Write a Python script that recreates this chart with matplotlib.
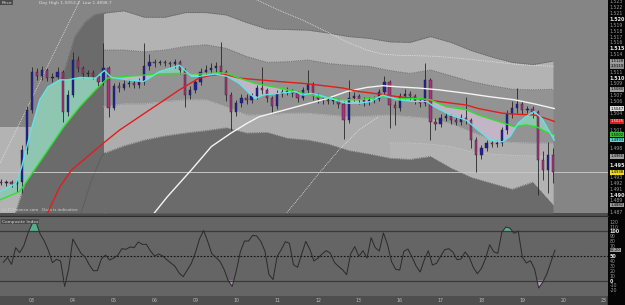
import numpy as np
import matplotlib
matplotlib.use("Agg")
import matplotlib.pyplot as plt
from matplotlib.patches import Rectangle

nan = np.nan

# ---------------- data ----------------
day_labels = ['03', '04', '05', '06', '09', '10', '11', '12', '13', '16', '17', '18', '19', '20', '23']

# 3-hour candles, first one at day -0.75
close = [1.4920, 1.4921, 1.4918, 1.4921, 1.4976, 1.5044, 1.5109, 1.5102, 1.5113, 1.5099,
         1.5101, 1.5109, 1.5041, 1.5070, 1.5130, 1.5116, 1.5106, 1.5108, 1.5102, 1.5092,
         1.5116, 1.5048, 1.5085, 1.5082, 1.5089, 1.5091, 1.5087, 1.5092, 1.5120, 1.5126,
         1.5125, 1.5126, 1.5125, 1.5123, 1.5126, 1.5113, 1.5070, 1.5078, 1.5092, 1.5109,
         1.5113, 1.5116, 1.5120, 1.5109, 1.5070, 1.5041, 1.5056, 1.5065, 1.5061, 1.5068,
         1.5082, 1.5078, 1.5065, 1.5051, 1.5072, 1.5075, 1.5077, 1.5073, 1.5065, 1.5078,
         1.5089, 1.5068, 1.5063, 1.5061, 1.5060, 1.5061, 1.5055, 1.5027, 1.5065, 1.5068,
         1.5061, 1.5058, 1.5061, 1.5063, 1.5075, 1.5092, 1.5053, 1.5048, 1.5068, 1.5072,
         1.5068, 1.5060, 1.5056, 1.5096, 1.5024, 1.5021, 1.5031, 1.5034, 1.5027, 1.5024,
         1.5031, 1.5027, 1.4993, 1.4967, 1.4979, 1.4988, 1.4986, 1.4988, 1.5010, 1.5038,
         1.5048, 1.5055, 1.5044, 1.5046, 1.5041, 1.4959, 1.4942, 1.4967, 1.4938]
high = [1.4926, 1.4925, 1.4924, 1.4930, 1.4985, 1.5052, 1.5118, 1.5117, 1.5120, 1.5117,
        1.5108, 1.5118, 1.5112, 1.5078, 1.5144, 1.5136, 1.5120, 1.5113, 1.5112, 1.5105,
        1.5159, 1.5120, 1.5090, 1.5092, 1.5095, 1.5097, 1.5096, 1.5100, 1.5159, 1.5140,
        1.5131, 1.5130, 1.5130, 1.5129, 1.5131, 1.5130, 1.5116, 1.5085, 1.5098, 1.5116,
        1.5121, 1.5124, 1.5127, 1.5161, 1.5112, 1.5075, 1.5062, 1.5072, 1.5071, 1.5074,
        1.5088, 1.5118, 1.5082, 1.5069, 1.5078, 1.5081, 1.5083, 1.5081, 1.5077, 1.5084,
        1.5113, 1.5093, 1.5073, 1.5068, 1.5066, 1.5066, 1.5065, 1.5059, 1.5096, 1.5075,
        1.5072, 1.5066, 1.5066, 1.5069, 1.5081, 1.5103, 1.5096, 1.5060, 1.5074, 1.5080,
        1.5077, 1.5072, 1.5065, 1.5125, 1.5099, 1.5030, 1.5037, 1.5040, 1.5038, 1.5032,
        1.5037, 1.5067, 1.5030, 1.4998, 1.4985, 1.4993, 1.4992, 1.4993, 1.5016, 1.5045,
        1.5060, 1.5082, 1.5060, 1.5052, 1.5051, 1.5045, 1.4975, 1.4990, 1.4980]
low = [1.4916, 1.4915, 1.4912, 1.4905, 1.4903, 1.4970, 1.5040, 1.5095, 1.5096, 1.5094,
       1.5092, 1.5097, 1.5024, 1.5035, 1.5066, 1.5110, 1.5100, 1.5101, 1.5097, 1.5085,
       1.5088, 1.5032, 1.5044, 1.5076, 1.5078, 1.5084, 1.5082, 1.5082, 1.5088, 1.5112,
       1.5118, 1.5121, 1.5120, 1.5118, 1.5117, 1.5106, 1.5050, 1.5064, 1.5074, 1.5088,
       1.5104, 1.5108, 1.5110, 1.5104, 1.5060, 1.5010, 1.5035, 1.5050, 1.5055, 1.5056,
       1.5063, 1.5072, 1.5058, 1.5039, 1.5047, 1.5067, 1.5070, 1.5067, 1.5058, 1.5061,
       1.5074, 1.5062, 1.5057, 1.5055, 1.5054, 1.5054, 1.5048, 1.4995, 1.5022, 1.5060,
       1.5055, 1.5052, 1.5053, 1.5056, 1.5059, 1.5070, 1.5014, 1.5019, 1.5043, 1.5063,
       1.5062, 1.5054, 1.5050, 1.5052, 1.4993, 1.5010, 1.5016, 1.5026, 1.5021, 1.5018,
       1.5019, 1.5021, 1.4980, 1.4938, 1.4960, 1.4974, 1.4981, 1.4981, 1.4983, 1.5004,
       1.5030, 1.5040, 1.5038, 1.5039, 1.5030, 1.4899, 1.4925, 1.4902, 1.4920]
first_open = 1.4922

# moving averages (day position, price)
cyan_d = [-0.78, -0.39, -0.25, 0.00, 0.19, 0.39, 0.68, 0.88, 1.17, 1.56, 1.77, 1.95, 2.34, 2.73,
          3.12, 3.61, 3.90, 4.09, 4.48, 4.78, 5.07, 5.46, 5.66, 6.05, 6.44, 6.63, 6.83, 7.02,
          7.41, 7.70, 8.00, 8.29, 8.58, 8.97, 9.36, 9.66, 9.85, 10.24, 10.63, 10.92, 11.22,
          11.51, 11.70, 11.90, 12.09, 12.29, 12.48, 12.78]
cyan_v = [1.4905, 1.4919, 1.4948, 1.5016, 1.5062, 1.5084, 1.5096, 1.5096, 1.5100, 1.5099,
          1.5112, 1.5100, 1.5096, 1.5093, 1.5110, 1.5121, 1.5102, 1.5102, 1.5106, 1.5102,
          1.5090, 1.5064, 1.5070, 1.5073, 1.5076, 1.5070, 1.5073, 1.5070, 1.5062, 1.5056,
          1.5056, 1.5059, 1.5070, 1.5062, 1.5059, 1.5059, 1.5050, 1.5036, 1.5027, 1.5010,
          1.4993, 1.4990, 1.4999, 1.5022, 1.5033, 1.5042, 1.5030, 1.4993]
green_d = [-0.78, -0.30, 0.00, 0.39, 0.78, 1.17, 1.56, 1.85, 2.34, 3.12, 3.61, 4.09, 4.58,
           4.78, 5.07, 5.46, 6.05, 6.63, 7.02, 7.61, 8.00, 8.58, 8.97, 9.46, 9.75, 10.14,
           10.63, 10.92, 11.41, 11.80, 12.09, 12.34, 12.58, 12.78]
green_v = [1.4891, 1.4905, 1.4936, 1.4976, 1.5016, 1.5050, 1.5079, 1.5099, 1.5102, 1.5106,
           1.5107, 1.5106, 1.5108, 1.5107, 1.5099, 1.5090, 1.5082, 1.5073, 1.5067, 1.5062,
           1.5062, 1.5067, 1.5064, 1.5064, 1.5062, 1.5050, 1.5045, 1.5036, 1.5025, 1.5016,
           1.5019, 1.5016, 1.5007, 1.5002]
red_d = [0.34, 0.68, 0.97, 1.36, 1.75, 2.14, 2.63, 3.12, 3.61, 4.09, 4.39, 4.68, 5.07, 5.56,
         6.05, 6.63, 7.02, 7.61, 8.00, 8.58, 8.97, 9.56, 9.95, 10.63, 10.92, 11.51, 11.90,
         12.29, 12.58, 12.78]
red_v = [1.4862, 1.4913, 1.4942, 1.4965, 1.4988, 1.5010, 1.5033, 1.5056, 1.5079, 1.5099,
         1.5104, 1.5106, 1.5099, 1.5096, 1.5093, 1.5090, 1.5087, 1.5082, 1.5076, 1.5071,
         1.5067, 1.5063, 1.5059, 1.5053, 1.5047, 1.5039, 1.5037, 1.5036, 1.5030, 1.5025]
white_d = [2.92, 3.31, 3.90, 4.39, 4.87, 5.27, 5.56, 6.05, 6.63, 7.22, 7.70, 8.19, 8.58, 8.97,
           9.46, 9.95, 10.63, 11.22, 11.80, 12.29, 12.78]
white_v = [1.4862, 1.4896, 1.4942, 1.4982, 1.5005, 1.5022, 1.5033, 1.5042, 1.5053, 1.5064,
           1.5076, 1.5083, 1.5086, 1.5084, 1.5082, 1.5079, 1.5073, 1.5067, 1.5062, 1.5055,
           1.5047]

# envelope bands on a half-day grid
band_d = np.arange(-0.75, 12.76, 0.5)
band_u3 = [nan, nan, nan, nan, nan, 1.5210, 1.5214, 1.5203, 1.5203, 1.5211, 1.5211, 1.5207,
           1.5194, 1.5183, 1.5182, 1.5181, 1.5176, 1.5170, 1.5167, 1.5161, 1.5160, 1.5170,
           1.5160, 1.5146, 1.5135, 1.5126, 1.5122, 1.5128]
band_u2 = [nan, nan, nan, nan, nan, 1.5147, 1.5147, 1.5144, 1.5147, 1.5153, 1.5156, 1.5150,
           1.5136, 1.5126, 1.5127, 1.5130, 1.5124, 1.5121, 1.5119, 1.5112, 1.5107, 1.5113,
           1.5103, 1.5093, 1.5086, 1.5080, 1.5079, 1.5080]
band_l1 = [nan, nan, nan, nan, nan, 1.5050, 1.5055, 1.5055, 1.5059, 1.5062, 1.5062, 1.5050,
           1.5036, 1.5036, 1.5039, 1.5039, 1.5036, 1.5033, 1.5034, 1.5036, 1.5033, 1.5030,
           1.5021, 1.5007, 1.4993, 1.4989, 1.4988, 1.4988]
band_l2 = [nan, nan, nan, nan, nan, nan, nan, nan, nan, nan, nan, nan, nan, nan, nan, nan,
           nan, nan, nan, 1.4988, 1.4988, 1.4986, 1.4982, 1.4973, 1.4969, 1.4967, 1.4966,
           1.4965]
band_l3 = [nan, nan, nan, nan, nan, 1.4970, 1.4983, 1.4993, 1.5000, 1.5005, 1.5009, 1.5014,
           1.5005, 1.5006, 1.4996, 1.4993, 1.4986, 1.4975, 1.4969, 1.4962, 1.4960, 1.4965,
           1.4945, 1.4929, 1.4919, 1.4909, 1.4921, 1.4882]

# early part, before the bands settle
wedge_d = [-0.45, -0.20, 0.00, 0.20, 0.50, 0.80, 1.05, 1.30, 1.55, 1.80]
wedge_v = [1.4860, 1.4913, 1.4965, 1.5016, 1.5062, 1.5113, 1.5170, 1.5195, 1.5208, 1.5210]
left_light_d = [-0.80, 0.20]
left_light_top = [1.5016, 1.5016]

# slow envelope (white dotted)
slow_left_d = [-0.78, 1.20]
slow_left_v = [1.4954, 1.5236]
slow_up_d = [5.40, 6.04, 6.63, 7.22, 7.70, 8.19, 8.58, 8.97, 9.56, 9.95, 10.73, 11.41, 11.90, 12.78]
slow_up_v = [1.5236, 1.5215, 1.5198, 1.5178, 1.5161, 1.5147, 1.5140, 1.5138, 1.5137, 1.5136,
             1.5131, 1.5126, 1.5122, 1.5119]
slow_lo_d = [6.15, 6.63, 7.02, 7.51, 8.00, 8.48]
slow_lo_v = [1.4862, 1.4902, 1.4936, 1.4976, 1.5010, 1.5033]
early_lo_d = [1.17, 1.46, 1.70, 1.80]
early_lo_v = [1.4862, 1.4925, 1.4965, 1.4972]

# Composite Index, every 0.1 day from -0.7
ci_v = [37.1, 47.3, 33.0, 67.0, 56.8, 71.1, 96.3, 115.3, 118.7, 94.9,
        80.6, 61.6, 36.4, 43.2, 39.8, -12.0, 24.8, 84.7, 69.7, 55.4,
        48.0, 32.3, 20.1, 20.1, 44.6, 52.0, 41.8, 45.9, 51.4, 65.0,
        63.6, 68.4, 67.0, 78.6, 73.8, 73.8, 60.2, 50.0, 54.1, 50.0,
        42.5, 35.7, 28.9, 15.3, 7.8, 21.4, 35.0, 56.8, 84.7, 102.0,
        79.9, 54.8, 47.3, 39.1, 22.8, 0.3, -12.0, 19.4, 58.8, 80.6,
        80.6, 92.2, 90.8, 79.9, 60.2, 12.0, 2.0, 49.3, 62.9, 79.3,
        75.9, 32.3, 26.9, 54.1, 79.9, 63.6, 39.8, 45.9, 54.1, 60.9,
        56.1, 37.1, 28.9, 22.1, 11.9, 54.8, 69.0, 49.3, 60.9, 45.9,
        87.4, 67.0, 60.2, 97.0, 73.8, 38.4, 22.8, 21.4, 59.5, 64.3,
        48.0, 29.6, 17.3, 41.8, 60.9, 31.6, 35.0, 49.3, 62.9, 65.0,
        58.2, 42.5, 43.9, 58.2, 48.0, 26.9, 13.9, 24.8, 44.6, 73.1,
        58.8, 55.4, 99.0, 109.2, 106.5, 96.3, 101.0, 48.0, 35.7, 40.5,
        23.5, -15.3, -3.7, 13.3, 37.8, 62.2]

# ---------------- figure ----------------
W, H = 625, 305
fig = plt.figure(figsize=(W / 100, H / 100), dpi=100, facecolor='#4e4e4e')
fig.add_artist(Rectangle((608 / W, 0), 17 / W, 1, transform=fig.transFigure,
                         color='#050505', zorder=-1))

ax = fig.add_axes([0, 1 - 213 / H, 608 / W, 213 / H])
ax2 = fig.add_axes([0, 1 - 296 / H, 608 / W, 80 / H])

x_lo, x_hi = -0.783, 14.097
y_lo, y_hi = 1.48684, 1.52325

LIGHT = '#b3b3b3'
MID = '#939393'
DARK = '#6b6b6b'

ax.set_facecolor('#858585')
# early region
ax.fill_between(left_light_d, left_light_top, y_lo, color=LIGHT, lw=0, zorder=1)
ax.fill_between(wedge_d, wedge_v, y_lo, color=DARK, lw=0, zorder=1)
# bands
ax.fill_between(band_d, band_u3, band_u2, color=LIGHT, lw=0, zorder=1)
ax.fill_between(band_d, band_u2, band_l1, color=MID, lw=0, zorder=1)
ax.fill_between(band_d, band_l1, band_l3, color='#adadad', lw=0, zorder=1)
ax.fill_between(band_d, band_l2, band_l3, color=LIGHT, lw=0, zorder=1)
ax.fill_between(band_d, band_l3, y_lo, color=DARK, lw=0, zorder=1)

dot = dict(ls=(0, (1, 1.2)), lw=0.6, zorder=2)
for vals, col in [(band_u3, '#5a5a5a'), (band_u2, '#606060'), (band_l1, '#c4c4c4'),
                  (band_l2, '#cfcfcf'), (band_l3, '#5a5a5a')]:
    ax.plot(band_d, vals, color=col, **dot)
ax.plot(wedge_d, wedge_v, color='#5a5a5a', **dot)
ax.plot(early_lo_d, early_lo_v, color='#4a4a4a', **dot)
ax.plot(slow_left_d, slow_left_v, color='#e6e6e6', **dot)
ax.plot(slow_up_d, slow_up_v, color='#e6e6e6', **dot)
ax.plot(slow_lo_d, slow_lo_v, color='#e6e6e6', **dot)

# cyan / green cloud
fine = np.linspace(-0.78, 12.78, 1200)
cy = np.interp(fine, cyan_d, cyan_v)
gr = np.interp(fine, green_d, green_v)
ax.fill_between(fine, cy, gr, where=cy >= gr, interpolate=True, color='#8fc6b2', lw=0, zorder=2)
ax.fill_between(fine, cy, gr, where=cy < gr, interpolate=True, color='#c3b4c6', lw=0, zorder=2)

# last price line
ax.axhline(close[-1], color='#c6c6c6', lw=0.7, zorder=2)

# candles
candle_d = -0.75 + 0.125 * np.arange(len(close))
opens = np.array([first_open] + close[:-1])
closes = np.array(close)
up = closes >= opens
ax.vlines(candle_d, low, high, color='#262626', lw=0.6, zorder=3)
body_lo = np.minimum(opens, closes)
body_h = np.maximum(np.abs(closes - opens), 0.00012)
ax.bar(candle_d, body_h, bottom=body_lo, width=0.055,
       color=np.where(up, '#2020a0', '#b0307c'), edgecolor='#202020', lw=0.3, zorder=4)

# moving averages
ax.plot(white_d, white_v, color='#f4f4f4', lw=1.0, zorder=5)
ax.plot(red_d, red_v, color='#e41c1c', lw=1.0, zorder=5)
ax.plot(green_d, green_v, color='#2ee02e', lw=1.0, zorder=5)
ax.plot(cyan_d, cyan_v, color='#5ee4ea', lw=1.0, zorder=6)

ax.set_xlim(x_lo, x_hi)
ax.set_ylim(y_lo, y_hi)
ax.set_xticks([])
for s in ax.spines.values():
    s.set_visible(False)

# value boxes on the price scale
boxes = [(band_u3[-1], '#9c9c9c', 'black'), (slow_up_v[-1], '#8a8a8a', 'black'),
         (band_u2[-1], '#9c9c9c', 'black'), (white_v[-1], '#d8d8d8', 'black'),
         (red_v[-1], '#d42020', 'white'), (green_v[-1], '#30c030', 'black'),
         (cyan_v[-1], '#58d8dc', 'black'), (band_l2[-1], '#9c9c9c', 'black'),
         (close[-1], '#f0d820', 'black'), (band_l3[-1], '#9c9c9c', 'black')]
box_vals = np.array([b[0] for b in boxes])

# price scale: a label is hidden where a value box sits on it
yt = np.round(np.arange(1.487, 1.5235, 0.001), 3)
ax.yaxis.tick_right()
ax.set_yticks(yt)
ax.set_yticklabels(['' if np.min(np.abs(box_vals - v)) < 0.00056 else f'{v:.3f}' for v in yt])
ax.tick_params(axis='y', length=0, pad=1, labelsize=3.3, labelcolor='#9a9a9a')
for lab, v in zip(ax.get_yticklabels(), yt):
    if round(v * 1000) % 5 == 0:
        lab.set_fontweight('bold')
        lab.set_color('#e6e6e6')
        lab.set_fontsize(3.5)

for v, fc, tc in boxes:
    ax.annotate(f'{v:.4f}', xy=(1.0, v), xycoords=('axes fraction', 'data'),
                xytext=(1.5, 0), textcoords='offset points', fontsize=2.7, color=tc,
                va='center', ha='left', annotation_clip=False, zorder=10,
                bbox=dict(boxstyle='square,pad=0.1', fc=fc, ec='none'))

# header texts
ax.text(0.002, 0.988, 'Price', transform=ax.transAxes, fontsize=3.2, color='#d8d8d8',
        va='center', ha='left', bbox=dict(boxstyle='square,pad=0.2', fc='#4a4a4a', ec='none'))
ax.text(0.064, 0.988, 'Day High 1.5053.2  Low 1.4898.7', transform=ax.transAxes,
        fontsize=3.2, color='#dcdcdc', va='center', ha='left')
ax.text(0.001, 0.012, '(c) IT-Finance.com   Data is indicative', transform=ax.transAxes,
        fontsize=3.0, color='#d0d0d0', va='center', ha='left')

# ---------------- composite index ----------------
ci_d = np.round(-0.7 + 0.1 * np.arange(len(ci_v)), 2)
ci = np.array(ci_v)
ax2.set_facecolor('#656565')
ax2.axhline(100, color='#3a3a3a', lw=0.9)
ax2.axhline(0, color='#3a3a3a', lw=0.9)
ax2.axhline(50, color='#111111', lw=0.8, ls=(0, (1.5, 1.5)))
ax2.fill_between(ci_d, ci, 100, where=ci > 100, interpolate=True, color='#52b08e', lw=0)
ax2.fill_between(ci_d, ci, 0, where=ci < 0, interpolate=True, color='#b79cbd', lw=0)
ax2.plot(ci_d, ci, color='#2a2a2a', lw=0.7)
ax2.set_xlim(x_lo, x_hi)
ax2.set_ylim(-31.6, 131.6)
for s in ax2.spines.values():
    s.set_visible(False)
ax2.spines['top'].set_visible(True)
ax2.spines['top'].set_color('#2e2e2e')
ax2.spines['top'].set_linewidth(0.8)

ax2.set_xticks(range(len(day_labels)))
ax2.set_xticklabels(day_labels)
ax2.tick_params(axis='x', length=0, pad=1.2, labelsize=3.4, labelcolor='#bdbdbd')
ct = list(range(-20, 121, 10))
ax2.yaxis.tick_right()
ax2.set_yticks(ct)
ax2.set_yticklabels(['' if abs(v - ci_v[-1]) < 5 else str(v) for v in ct])
ax2.tick_params(axis='y', length=0, pad=1, labelsize=3.3, labelcolor='#9a9a9a')
for lab, v in zip(ax2.get_yticklabels(), ct):
    if v % 50 == 0:
        lab.set_fontweight('bold')
        lab.set_color('#e6e6e6')
        lab.set_fontsize(3.5)
ax2.annotate(f'{ci_v[-1]:.2f}', xy=(1.0, ci_v[-1]), xycoords=('axes fraction', 'data'),
             xytext=(1.5, 0), textcoords='offset points', fontsize=2.7, color='black',
             va='center', ha='left', annotation_clip=False,
             bbox=dict(boxstyle='square,pad=0.1', fc='#9c9c9c', ec='none'))
ax2.text(0.003, 0.93, 'Composite Index', transform=ax2.transAxes, fontsize=3.2,
         color='#d8d8d8', va='center', ha='left',
         bbox=dict(boxstyle='square,pad=0.2', fc='#4a4a4a', ec='none'))

fig.savefig('out.png', dpi=100, facecolor=fig.get_facecolor())
